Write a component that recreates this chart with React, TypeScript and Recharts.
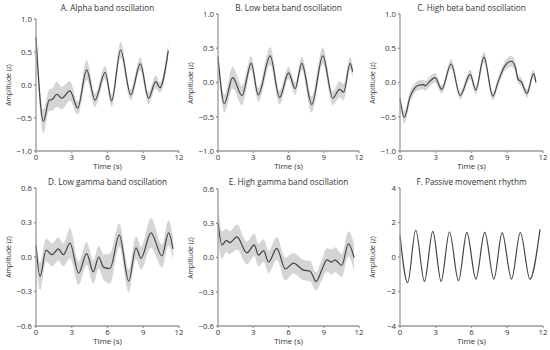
import { Area, ComposedChart, Line, XAxis, YAxis } from "recharts"

const timeTicks = [0, 3, 6, 9, 12]
const wideTicks = [-1, -0.5, 0, 0.5, 1]
const gammaTicks = [-0.6, -0.3, 0, 0.3, 0.6]
const rhythmTicks = [-4, -2, 0, 2, 4]

const alphaTime = [0, 0.62, 1.1, 1.35, 1.75, 2.15, 2.85, 3.5, 4.25, 4.95, 5.8, 6.35, 7.1, 7.95, 8.75, 9.45, 10.05, 10.4, 11.1]
const alphaMean = [0.73, -0.55, -0.23, -0.22, -0.14, -0.2, -0.09, -0.35, 0.23, -0.23, 0.19, -0.24, 0.53, -0.15, 0.32, -0.2, 0.05, -0.04, 0.52]
const alphaSem = [0.1, 0.18, 0.16, 0.17, 0.19, 0.17, 0.15, 0.1, 0.15, 0.1, 0.1, 0.09, 0.12, 0.08, 0.1, 0.09, 0.1, 0.08, 0.12]

const lowBetaTime = [0, 0.54, 1.25, 2.04, 2.83, 3.42, 4.44, 5.24, 6.0, 6.57, 7.13, 7.98, 8.92, 9.77, 10.35, 10.7, 11.24, 11.46]
const lowBetaMean = [0.38, -0.31, 0.07, -0.19, 0.28, -0.18, 0.39, -0.22, 0.14, -0.09, 0.28, -0.32, 0.39, -0.23, -0.1, -0.14, 0.28, 0.16]
const lowBetaSem = [0.06, 0.13, 0.16, 0.14, 0.1, 0.1, 0.13, 0.1, 0.09, 0.09, 0.1, 0.12, 0.12, 0.1, 0.12, 0.12, 0.09, 0.1]

const highBetaTime = [0, 0.36, 0.84, 1.2, 1.54, 1.96, 2.1, 2.52, 2.94, 3.5, 4.29, 5.05, 5.89, 6.36, 7.04, 7.79, 8.27, 8.83, 9.34, 9.67, 9.9, 10.18, 10.65, 11.21, 11.41]
const highBetaMean = [-0.23, -0.51, -0.21, -0.09, -0.04, -0.03, -0.05, 0.02, 0.07, -0.1, 0.27, -0.19, 0.12, -0.11, 0.37, -0.2, 0.03, 0.25, 0.31, 0.23, 0.05, 0.01, -0.16, 0.13, 0.0]
const highBetaSem = [0.06, 0.09, 0.08, 0.07, 0.07, 0.07, 0.07, 0.07, 0.07, 0.06, 0.07, 0.06, 0.07, 0.06, 0.08, 0.06, 0.06, 0.07, 0.08, 0.07, 0.06, 0.06, 0.06, 0.06, 0.06]

const lowGammaTime = [0, 0.34, 0.84, 1.34, 1.87, 2.3, 2.85, 3.58, 4.25, 4.81, 5.26, 5.68, 6.21, 6.99, 7.78, 8.39, 8.81, 9.65, 10.57, 11.13, 11.5]
const lowGammaMean = [0.1, -0.17, 0.06, 0.02, 0.07, 0.02, 0.12, -0.14, 0.03, -0.13, 0.0, -0.09, -0.1, 0.19, -0.21, 0.08, -0.01, 0.21, 0.01, 0.21, 0.07]
const lowGammaSem = [0.1, 0.12, 0.1, 0.1, 0.1, 0.1, 0.13, 0.1, 0.1, 0.1, 0.1, 0.11, 0.13, 0.1, 0.1, 0.1, 0.1, 0.13, 0.1, 0.11, 0.1]

const highGammaTime = [0, 0.34, 0.71, 0.99, 1.61, 2.46, 3.09, 3.45, 3.88, 4.3, 5.01, 5.72, 6.42, 7.27, 7.84, 8.35, 8.83, 9.26, 9.68, 9.96, 10.53, 11.1, 11.58]
const highGammaMean = [0.3, 0.11, 0.15, 0.13, 0.18, 0.04, 0.11, 0.02, 0.06, -0.04, 0.08, -0.1, -0.05, -0.11, -0.12, -0.21, -0.11, -0.02, -0.04, -0.02, -0.07, 0.12, 0.0]
const highGammaSem = [0.15, 0.12, 0.1, 0.1, 0.11, 0.1, 0.1, 0.1, 0.1, 0.1, 0.1, 0.1, 0.09, 0.09, 0.09, 0.08, 0.09, 0.1, 0.11, 0.11, 0.1, 0.11, 0.12]

const passiveTime = [0, 0.64, 1.32, 2.05, 2.75, 3.45, 4.15, 4.91, 5.61, 6.37, 7.11, 7.88, 8.57, 9.36, 10.1, 10.9, 11.75]
const passiveMean = [1.25, -1.49, 1.55, -1.41, 1.49, -1.41, 1.45, -1.37, 1.41, -1.28, 1.43, -1.28, 1.4, -1.28, 1.42, -1.28, 1.6]
const passiveSem = [0.05, 0.05, 0.05, 0.05, 0.05, 0.05, 0.05, 0.05, 0.05, 0.05, 0.05, 0.05, 0.05, 0.05, 0.05, 0.05, 0.05]

const font = "'Open Sans', sans-serif"
const axisColor = "#9a9a9a"
const textColor = "#333"

const signed = (digits: number) => (v: number) =>
  (v < 0 ? "\u2212" : "") + Math.abs(v).toFixed(digits)

type Box = { left: number; top: number; right: number; bottom: number }

type PanelProps = {
  title: string
  titleY: number
  time: number[]
  mean: number[]
  sem: number[]
  yTicks: number[]
  digits: number
  box: Box
}

function Label({ x, y, size, rotate, children }: { x: number; y: number; size: number; rotate?: boolean; children: string }) {
  return (
    <div
      style={{
        position: "absolute",
        left: x,
        top: y,
        transform: `translate(-50%, -50%)${rotate ? " rotate(-90deg)" : ""}`,
        font: `${size}px ${font}`,
        lineHeight: 1,
        color: textColor,
        whiteSpace: "nowrap",
      }}
    >
      {children}
    </div>
  )
}

function Panel({ title, titleY, time, mean, sem, yTicks, digits, box }: PanelProps) {
  const data = time.map((t, i) => ({
    t,
    mean: mean[i],
    band: [mean[i] - sem[i], mean[i] + sem[i]],
  }))
  const width = box.right - box.left + 36 + 6
  const height = box.bottom - box.top + 10 + 14
  const cx = (box.left + box.right) / 2
  const cy = (box.top + box.bottom) / 2
  const tick = { fill: textColor, fontSize: 7.8, fontFamily: font }

  return (
    <>
      <div style={{ position: "absolute", left: box.left - 36, top: box.top - 10 }}>
        <ComposedChart
          width={width}
          height={height}
          data={data}
          margin={{ top: 10, right: 6, bottom: 0, left: 0 }}
        >
          <XAxis
            dataKey="t"
            type="number"
            domain={[0, 12]}
            ticks={timeTicks}
            interval={0}
            height={14}
            stroke={axisColor}
            strokeWidth={1.3}
            tickSize={2}
            tickMargin={1}
            tick={tick}
          />
          <YAxis
            type="number"
            domain={[yTicks[0], yTicks[yTicks.length - 1]]}
            ticks={yTicks}
            interval={0}
            width={36}
            stroke={axisColor}
            strokeWidth={1.3}
            tickSize={2}
            tickMargin={2}
            tick={tick}
            tickFormatter={signed(digits)}
          />
          <Area
            dataKey="band"
            type="monotone"
            fill="#d5d5d5"
            fillOpacity={1}
            stroke="none"
            activeDot={false}
            isAnimationActive={false}
          />
          <Line
            dataKey="mean"
            type="monotone"
            stroke="#454545"
            strokeWidth={1.2}
            dot={false}
            activeDot={false}
            isAnimationActive={false}
          />
        </ComposedChart>
      </div>
      <Label x={cx} y={titleY} size={8.2}>{title}</Label>
      <Label x={cx} y={box.bottom + 15.5} size={7.9}>Time (s)</Label>
      <Label x={box.left - 27} y={cy} size={6.8} rotate>Amplitude (z)</Label>
    </>
  )
}

export default function App() {
  return (
    <div
      style={{
        position: "absolute",
        left: 0,
        top: 0,
        width: 550,
        height: 350,
        background: "#fff",
        overflow: "hidden",
      }}
    >
      <Panel
        title="A. Alpha band oscillation"
        titleY={8}
        time={alphaTime}
        mean={alphaMean}
        sem={alphaSem}
        yTicks={wideTicks}
        digits={1}
        box={{ left: 36, top: 19, right: 179, bottom: 151 }}
      />
      <Panel
        title="B. Low beta band oscillation"
        titleY={8}
        time={lowBetaTime}
        mean={lowBetaMean}
        sem={lowBetaSem}
        yTicks={wideTicks}
        digits={1}
        box={{ left: 218, top: 14, right: 359, bottom: 151 }}
      />
      <Panel
        title="C. High beta band oscillation"
        titleY={8}
        time={highBetaTime}
        mean={highBetaMean}
        sem={highBetaSem}
        yTicks={wideTicks}
        digits={1}
        box={{ left: 400, top: 14, right: 543, bottom: 151 }}
      />
      <Panel
        title="D. Low gamma band oscillation"
        titleY={182}
        time={lowGammaTime}
        mean={lowGammaMean}
        sem={lowGammaSem}
        yTicks={gammaTicks}
        digits={1}
        box={{ left: 36, top: 188, right: 179, bottom: 326 }}
      />
      <Panel
        title="E. High gamma band oscillation"
        titleY={182}
        time={highGammaTime}
        mean={highGammaMean}
        sem={highGammaSem}
        yTicks={gammaTicks}
        digits={1}
        box={{ left: 218, top: 189, right: 359, bottom: 326 }}
      />
      <Panel
        title="F. Passive movement rhythm"
        titleY={182}
        time={passiveTime}
        mean={passiveMean}
        sem={passiveSem}
        yTicks={rhythmTicks}
        digits={0}
        box={{ left: 400, top: 188, right: 543, bottom: 326 }}
      />
    </div>
  )
}
